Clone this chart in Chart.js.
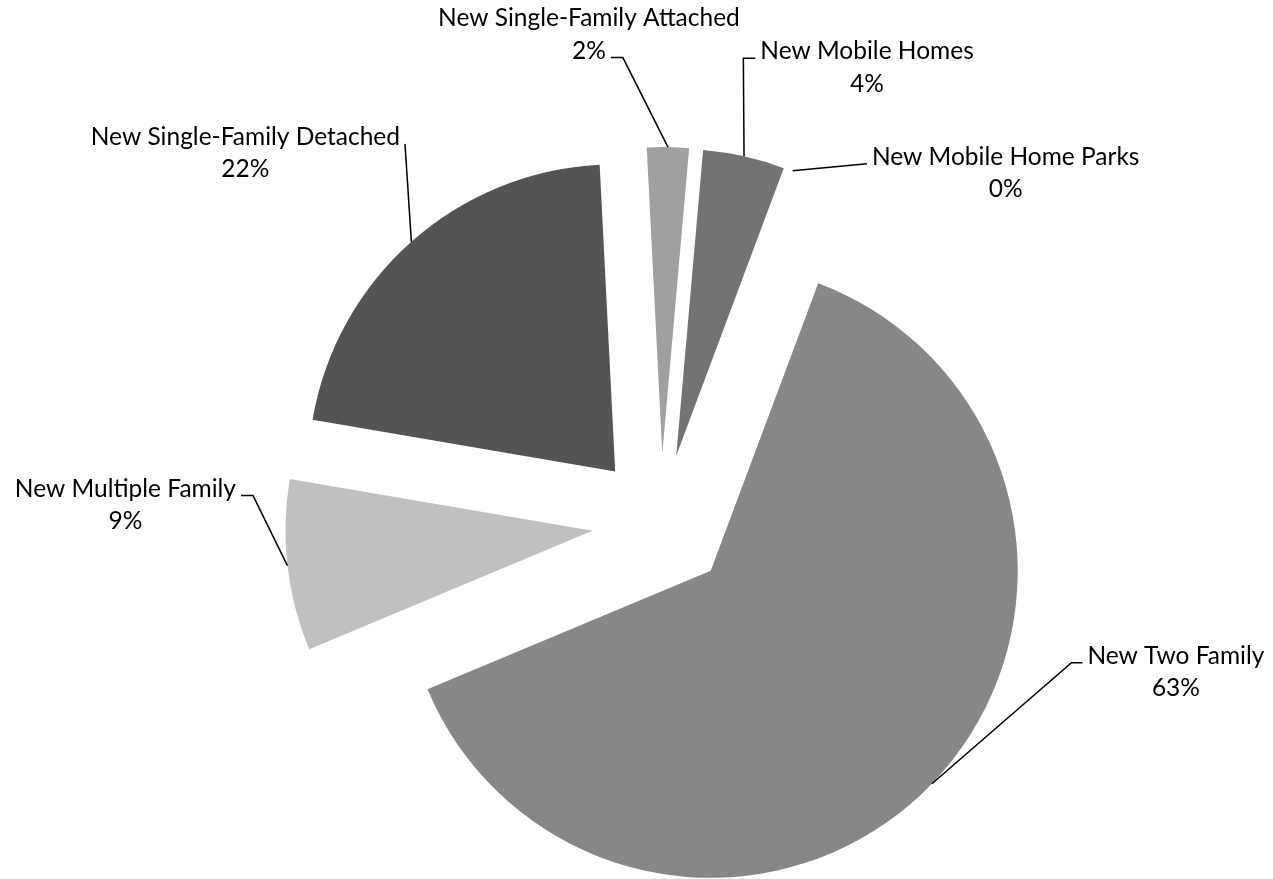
<!DOCTYPE html>
<html>
<head>
<meta charset="utf-8">
<title>New construction by type</title>
<script src="https://cdn.jsdelivr.net/npm/chart.js@4/dist/chart.umd.min.js"></script>
<style>
  html, body { margin: 0; padding: 0; background: #ffffff; }
  #container { position: relative; width: 1273px; height: 879px; }
</style>
</head>
<body>
<div id="container"><canvas id="chart"></canvas></div>
<script>
"use strict";

const categories = [
  'New Single-Family Detached',
  'New Single-Family Attached',
  'New Mobile Homes',
  'New Mobile Home Parks',
  'New Two Family',
  'New Multiple Family',
];
const shares = [21.5, 2.2, 4.3, 0, 63.0, 9.0];
const sliceColors = ['#545454', '#a0a0a0', '#737373', '#969696', '#878787', '#c0c0c0'];

// where each label sits relative to the point where its leader touches the slice
const labelPlacement = [
  { dx: -166, dy: -97, line: 0, side: 'right', hLen: 0 },
  { dx: -79, dy: -121, line: 1, side: 'right', hLen: 12 },
  { dx: 123, dy: -97, line: 0, side: 'left', hLen: 12 },
  { dx: 213, dy: -6, line: 0, side: 'left', hLen: 0 },
  { dx: 244, dy: -120, line: 0, side: 'left', hLen: 11 },
  { dx: -162, dy: -69, line: 0, side: 'right', hLen: 12 },
];

const explode = 69;
const pieRadius = 307;
const labelFont = '24.5px Lato';
const lineGap = 32.5;

// Chart.js grows/narrows exploded arcs a bit; undo that so every slice keeps the same radius
const explodeFix = {
  id: 'explodeFix',
  afterDatasetUpdate(chart, args) {
    args.meta.data.forEach(arc => {
      const off = (arc.options.offset || 0) / 4;
      const fix = 1 - Math.sin(Math.min(Math.PI, arc.circumference || 0));
      const ro = off * fix;
      const r = arc.outerRadius;
      arc.drawRadius = r;
      arc.outerRadius = r - ro;
      const widen = ro / Math.PI / r / 2;
      arc.startAngle -= widen;
      arc.endAngle += widen;
    });
  },
};

const arcLabels = {
  id: 'arcLabels',
  afterDatasetsDraw(chart) {
    const ctx = chart.ctx;
    const meta = chart.getDatasetMeta(0);
    const total = shares.reduce((a, b) => a + b, 0);
    ctx.save();
    ctx.font = labelFont;
    ctx.fillStyle = '#000000';
    ctx.strokeStyle = '#000000';
    ctx.lineWidth = 1.5;
    ctx.textAlign = 'center';
    ctx.textBaseline = 'alphabetic';
    meta.data.forEach((arc, i) => {
      const place = labelPlacement[i];
      const mid = (arc.startAngle + arc.endAngle) / 2;
      const dist = arc.options.offset / 4 + arc.drawRadius;
      const ax = arc.x + Math.cos(mid) * dist;
      const ay = arc.y + Math.sin(mid) * dist;
      const lines = [categories[i], Math.round(shares[i] / total * 100) + '%'];
      const cx = ax + place.dx;
      const by = ay + place.dy;
      lines.forEach((text, k) => ctx.fillText(text, cx, by + k * lineGap));

      const w = ctx.measureText(lines[place.line]).width;
      const y = by + place.line * lineGap - 1;
      const edge = place.side === 'right' ? cx + w / 2 + 5 : cx - w / 2 - 5;
      const elbow = place.side === 'right' ? edge + place.hLen : edge - place.hLen;
      ctx.beginPath();
      ctx.moveTo(ax, ay);
      ctx.lineTo(elbow, y);
      ctx.lineTo(edge, y);
      ctx.stroke();
    });
    ctx.restore();
  },
};

let graph = null;
document.addEventListener("DOMContentLoaded", function () {
  const canvasElement = document.getElementById("chart");
  if (graph !== null) {
    graph.destroy();
  }
  graph = new Chart(canvasElement, {
    type: 'pie',
    data: {
      labels: categories,
      datasets: [{
        data: shares,
        backgroundColor: sliceColors,
        borderWidth: 0,
        offset: explode * 4,
        hoverOffset: 0,
      }],
    },
    options: {
      responsive: true,
      maintainAspectRatio: false,
      animation: false,
      events: [],
      rotation: -80.3,
      radius: pieRadius,
      layout: {
        padding: { left: 49, top: 167, right: 0, bottom: 0 },
      },
      plugins: {
        legend: { display: false },
        tooltip: { enabled: false },
      },
    },
    plugins: [explodeFix, arcLabels],
  });
});
</script>
</body>
</html>
